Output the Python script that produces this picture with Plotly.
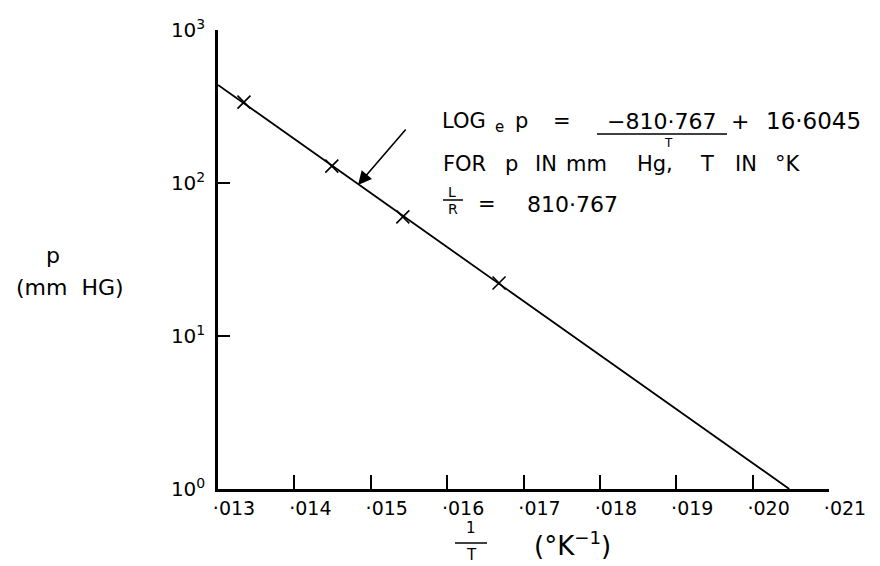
import plotly.graph_objects as go

# ---- data ----
inv_T = [0.01334, 0.01449, 0.01542, 0.01668]          # 1/T (K^-1)
p_mmHg = [338, 129, 60, 22.2]                           # measured vapour pressure

fit_x = [0.013, 0.02048]                                # fitted line end points
fit_y = [437, 1.0]

x_ticks = [0.013, 0.014, 0.015, 0.016, 0.017, 0.018, 0.019, 0.020, 0.021]
x_tick_text = ["·013", "·014", "·015", "·016", "·017", "·018", "·019", "·020", "·021"]
y_ticks = [1, 10, 100, 1000]
y_tick_text = ["10<sup>0</sup>", "10<sup>1</sup>", "10<sup>2</sup>", "10<sup>3</sup>"]

W, H = 880, 566
L, R, T, B = 218, 51, 30, 77
PW, PH = W - L - R, H - T - B

FONT = "DejaVu Sans"


def px(xp):
    return (xp - L) / PW


def py(yp):
    return (H - B - yp) / PH


fig = go.Figure()
fig.add_trace(go.Scatter(x=fit_x, y=fit_y, mode="lines",
                         line=dict(color="black", width=1.8), showlegend=False))
fig.add_trace(go.Scatter(x=inv_T, y=p_mmHg, mode="markers",
                         marker=dict(symbol="x-thin", size=13,
                                     line=dict(color="black", width=1.6)),
                         showlegend=False))

ann = []


def txt(t, x, y, size=21, xanchor="center"):
    ann.append(dict(text=t, x=px(x), y=py(y), xref="paper", yref="paper",
                    showarrow=False, xanchor=xanchor, yanchor="middle",
                    font=dict(family=FONT, size=size, color="black")))


# equation block, line 1
y1 = 121
txt("LOG", 464, y1)
txt("e", 499, y1 + 6, size=15)
txt("p", 521, y1)
txt("=", 562, y1)
txt("−810·767", 661, y1, size=22)
txt("+", 740, y1, size=22)
txt("16·6045", 813, y1, size=23)
txt("T", 668, 143, size=12)
# line 2
y2 = 164
txt("FOR", 464, y2)
txt("p", 511, y2)
txt("IN", 546, y2)
txt("mm", 586, y2)
txt("Hg,", 655, y2)
txt("T", 707, y2)
txt("IN", 746, y2)
txt("°K", 788, y2)
# line 3
y3 = 204
txt("L", 452, y3 - 12, size=14)
txt("R", 453, y3 + 5, size=14)
txt("=", 487, y3)
txt("810·767", 572, y3, size=22)

# y axis label
txt("p", 53, 255, size=22)
txt("(mm  HG)", 70, 287, size=22)

# x axis label
txt("1", 471, 528, size=15)
txt("T", 471, 555, size=15)
txt("(°K<sup>−1</sup>)", 572, 544, size=26)

# arrow pointing at line
ann.append(dict(x=px(358), y=py(185), xref="paper", yref="paper",
                ax=49, ay=-57, axref="pixel", ayref="pixel",
                showarrow=True, arrowhead=2, arrowsize=1.7, arrowwidth=1.6,
                arrowcolor="black", text=""))

shapes = [
    dict(type="line", xref="paper", yref="paper", x0=px(597), x1=px(727),
         y0=py(134), y1=py(134), line=dict(color="black", width=1.5)),
    dict(type="line", xref="paper", yref="paper", x0=px(443), x1=px(463),
         y0=py(y3 - 4), y1=py(y3 - 4), line=dict(color="black", width=1.5)),
    dict(type="line", xref="paper", yref="paper", x0=px(455), x1=px(487),
         y0=py(543), y1=py(543), line=dict(color="black", width=1.5)),
]

fig.update_layout(
    width=W, height=H,
    margin=dict(l=L, r=R, t=T, b=B, pad=0),
    paper_bgcolor="white", plot_bgcolor="white",
    annotations=ann, shapes=shapes,
    font=dict(family=FONT, size=18, color="black"),
    xaxis=dict(range=[0.013, 0.021], tickmode="array", tickvals=x_ticks,
               ticktext=x_tick_text, ticks="inside", ticklen=14, tickwidth=2,
               tickcolor="black", showline=True, linewidth=2.5, linecolor="black",
               showgrid=False, zeroline=False, ticklabelshift=16,
               tickfont=dict(family=FONT, size=19)),
    yaxis=dict(type="log", range=[0, 3], tickmode="array", tickvals=y_ticks,
               ticktext=y_tick_text, ticks="inside", ticklen=12, tickwidth=2,
               tickcolor="black", showline=True, linewidth=2.5, linecolor="black",
               showgrid=False, zeroline=False, ticklabelstandoff=6,
               tickfont=dict(family=FONT, size=20)),
)

fig.write_html("out.html")
